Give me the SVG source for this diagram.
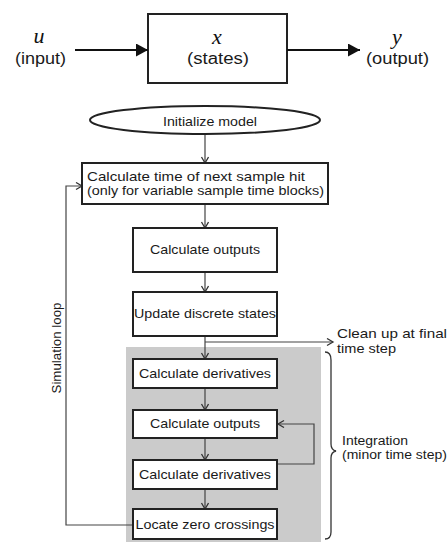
<svg xmlns="http://www.w3.org/2000/svg" width="448" height="542" viewBox="0 0 448 542">
<defs>
<marker id="chev" markerUnits="userSpaceOnUse" markerWidth="10" markerHeight="10" refX="7" refY="4" orient="auto">
<path d="M1,0.5 L7,4 L1,7.5" fill="none" stroke="#333" stroke-width="1.3"/>
</marker>
<marker id="tri" markerUnits="userSpaceOnUse" markerWidth="14" markerHeight="14" refX="12" refY="6.5" orient="auto">
<path d="M0,0 L12,6.5 L0,13 Z" fill="#111"/>
</marker>
</defs>
<style>
text{font-family:"Liberation Sans",Arial,sans-serif;fill:#1a1a1a;}
.lbl{font-size:13px;}
.sm{font-size:12px;}
.big{font-size:16px;}
.sym{font-family:"Liberation Serif","Times New Roman",serif;font-style:italic;font-size:22px;fill:#111;}
.box{fill:#fff;stroke:#222;stroke-width:2;}
.conn{fill:none;stroke:#444;stroke-width:1.2;}
.thick{fill:none;stroke:#111;stroke-width:2;}
</style>
<rect x="0" y="0" width="448" height="542" fill="#fff"/>

<g id="system-top">
<rect class="box" x="148" y="14" width="139" height="69"/>
<text class="sym" x="217" y="44" text-anchor="middle">x</text>
<text class="big" x="218" y="64" text-anchor="middle" textLength="62" lengthAdjust="spacingAndGlyphs">(states)</text>
</g>
<g id="input-label">
<text class="sym" x="39" y="43" text-anchor="middle">u</text>
<text class="big" x="40.5" y="64" text-anchor="middle" textLength="51" lengthAdjust="spacingAndGlyphs">(input)</text>
</g>
<g id="output-label">
<text class="sym" x="397" y="44" text-anchor="middle">y</text>
<text class="big" x="397.5" y="64" text-anchor="middle" textLength="63" lengthAdjust="spacingAndGlyphs">(output)</text>
</g>

<g id="integration-region">
<rect x="126" y="347" width="195" height="195" fill="#cbcbcb"/>
</g>

<g id="connectors">
<line class="thick" x1="75" y1="50" x2="148" y2="50" marker-end="url(#tri)"/>
<line class="thick" x1="287" y1="50" x2="360" y2="50" marker-end="url(#tri)"/>
<line class="conn" x1="205" y1="134" x2="205" y2="163" marker-end="url(#chev)"/>
<line class="conn" x1="205" y1="204" x2="205" y2="228" marker-end="url(#chev)"/>
<line class="conn" x1="205" y1="272" x2="205" y2="292" marker-end="url(#chev)"/>
<line class="conn" x1="205" y1="336" x2="205" y2="359" marker-end="url(#chev)"/>
<polyline class="conn" points="205,342 333,342" marker-end="url(#chev)"/>
<line class="conn" x1="205" y1="388" x2="205" y2="410" marker-end="url(#chev)"/>
<line class="conn" x1="205" y1="438" x2="205" y2="460" marker-end="url(#chev)"/>
<line class="conn" x1="205" y1="489" x2="205" y2="509" marker-end="url(#chev)"/>
<polyline class="conn" points="277,464 314,464 314,424 278,424" marker-end="url(#chev)"/>
<polyline class="conn" points="133,525 66,525 66,186 82,186" marker-end="url(#chev)"/>
</g>

<g id="initialize">
<ellipse cx="205" cy="120" rx="115" ry="14" fill="#fff" stroke="#222" stroke-width="2"/>
<text class="lbl" x="210" y="126" text-anchor="middle" textLength="94" lengthAdjust="spacingAndGlyphs">Initialize model</text>
</g>
<g id="next-sample-hit">
<rect class="box" x="82" y="163" width="246" height="41"/>
<text class="lbl" x="87" y="181" textLength="218" lengthAdjust="spacingAndGlyphs">Calculate time of next sample hit</text>
<text class="lbl" x="87" y="195" textLength="237" lengthAdjust="spacingAndGlyphs">(only for variable sample time blocks)</text>
</g>
<g id="calc-outputs-1">
<rect class="box" x="133" y="228" width="144" height="44"/>
<text class="lbl" x="205" y="254" text-anchor="middle" textLength="110" lengthAdjust="spacingAndGlyphs">Calculate outputs</text>
</g>
<g id="update-discrete">
<rect class="box" x="133" y="292" width="144" height="44"/>
<text class="lbl" x="205" y="318" text-anchor="middle" textLength="142" lengthAdjust="spacingAndGlyphs">Update discrete states</text>
</g>
<g id="calc-derivatives-1">
<rect class="box" x="133" y="359" width="144" height="29"/>
<text class="lbl" x="205" y="378" text-anchor="middle" textLength="132" lengthAdjust="spacingAndGlyphs">Calculate derivatives</text>
</g>
<g id="calc-outputs-2">
<rect class="box" x="133" y="410" width="144" height="28"/>
<text class="lbl" x="205" y="428" text-anchor="middle" textLength="110" lengthAdjust="spacingAndGlyphs">Calculate outputs</text>
</g>
<g id="calc-derivatives-2">
<rect class="box" x="133" y="460" width="144" height="29"/>
<text class="lbl" x="205" y="479" text-anchor="middle" textLength="132" lengthAdjust="spacingAndGlyphs">Calculate derivatives</text>
</g>
<g id="zero-crossings">
<rect class="box" x="133" y="509" width="144" height="30"/>
<text class="lbl" x="205" y="529" text-anchor="middle" textLength="139" lengthAdjust="spacingAndGlyphs">Locate zero crossings</text>
</g>

<g id="clean-up">
<text class="lbl" x="337" y="338" textLength="110" lengthAdjust="spacingAndGlyphs">Clean up at final</text>
<text class="lbl" x="337" y="353" textLength="59" lengthAdjust="spacingAndGlyphs">time step</text>
</g>
<g id="simulation-loop">
<text class="lbl" transform="translate(61,348) rotate(-90)" text-anchor="middle" font-size="13" textLength="91" lengthAdjust="spacingAndGlyphs">Simulation loop</text>
</g>
<g id="integration">
<path d="M325,352 Q331,352 331,360 L331,444 Q331,450 336,451 Q331,452 331,458 L331,532 Q331,539 325,539" fill="none" stroke="#333" stroke-width="1.3"/>
<text class="sm" x="342" y="445" textLength="66" lengthAdjust="spacingAndGlyphs">Integration</text>
<text class="sm" x="342" y="459" textLength="105" lengthAdjust="spacingAndGlyphs">(minor time step)</text>
</g>
</svg>
